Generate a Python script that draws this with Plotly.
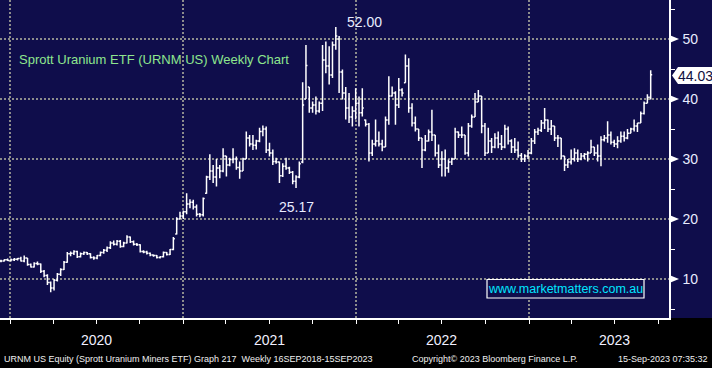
import pandas as pd
import plotly.graph_objects as go

# ---------------- data (weekly bars, URNM) ----------------
start_week = "2019-12-13"
n_weeks = 197

opens = [
13.0,13.0,13.2,13.1,13.2,13.3,13.4,13.0,13.5,12.4,12.0,12.6,12.5,11.3,10.6,9.4,8.5,9.8,10.8,11.6,
12.8,14.2,14.3,14.6,13.7,14.2,14.4,14.2,13.6,13.5,13.9,14.4,14.8,15.2,16.0,15.8,16.3,15.4,16.0,17.0,
16.2,15.8,15.7,14.6,14.5,14.3,14.0,13.9,13.6,13.7,14.4,14.1,14.9,17.5,20.0,20.5,21.2,22.5,22.8,22.0,
20.8,20.7,24.3,27.0,28.0,27.0,28.5,28.0,30.5,29.0,29.9,30.0,28.6,28.0,30.0,33.5,32.5,32.3,33.0,34.6,
35.0,31.5,31.0,29.6,29.5,27.2,28.8,28.5,27.8,26.3,27.0,29.5,40.0,42.0,38.5,39.0,38.0,39.3,46.5,45.5,
44.0,49.0,50.0,44.5,41.0,38.5,37.0,38.0,39.3,37.7,36.5,35.8,31.0,32.5,33.0,32.5,32.0,36.5,40.5,41.0,
39.0,41.5,42.7,45.5,38.5,36.0,35.0,33.5,31.5,33.0,34.5,34.0,31.0,29.0,30.0,28.5,29.5,30.0,34.5,34.0,
34.0,31.0,35.5,37.0,39.5,40.5,35.5,31.0,33.0,32.0,33.5,32.5,32.0,35.0,33.0,32.0,31.5,30.6,30.0,30.5,
31.0,33.0,34.5,34.8,36.0,36.5,35.0,35.5,33.5,33.5,30.5,29.0,29.5,30.0,31.0,30.0,30.5,30.8,31.0,32.0,
31.0,30.5,33.2,33.5,34.0,32.8,32.5,33.0,33.8,33.5,34.3,35.0,35.5,36.0,37.6,39.3,40.3]
highs = [
13.2,13.3,13.4,13.4,13.5,13.5,13.7,13.9,13.5,12.6,12.8,12.9,12.6,11.5,10.8,9.6,10.0,11.0,11.8,13.0,
14.5,14.6,14.8,14.7,14.4,14.6,14.5,14.3,13.8,14.0,14.6,15.0,15.4,16.3,16.4,16.5,16.5,16.2,17.3,17.1,
16.4,16.0,15.8,14.8,14.7,14.4,14.1,14.0,13.8,14.6,14.5,15.0,17.0,20.3,21.2,21.4,24.3,23.3,23.2,22.4,
21.0,23.6,27.2,30.8,29.0,30.0,29.0,31.8,30.5,30.2,31.8,30.4,29.6,30.2,34.6,34.0,34.0,33.2,35.2,35.6,
35.4,32.7,31.6,30.2,29.6,29.3,30.2,28.7,28.0,27.3,29.6,42.8,49.0,42.0,39.6,40.4,39.6,49.0,49.6,48.8,
49.6,52.0,50.5,44.9,42.0,41.0,38.8,41.8,40.4,41.8,36.6,36.0,33.2,36.6,34.6,33.2,37.1,43.8,42.1,41.3,
43.5,41.8,47.4,46.8,39.3,37.1,35.0,33.5,34.0,34.9,38.2,34.0,32.4,31.3,31.6,29.9,30.2,35.2,34.6,35.4,
34.0,36.0,37.4,41.0,41.5,40.5,36.0,35.2,33.5,34.3,34.6,34.0,35.7,35.4,33.3,33.5,32.9,31.0,30.8,31.5,
33.5,35.0,35.2,36.5,38.5,36.6,36.5,35.5,34.0,33.5,30.5,30.0,31.6,31.8,31.6,31.0,31.0,31.3,33.2,32.0,
32.4,33.8,34.0,36.3,34.6,33.2,33.8,34.6,34.6,35.0,35.2,36.6,36.0,37.9,39.6,40.8,44.8]
lows = [
12.8,12.9,13.0,12.9,13.0,13.1,12.9,12.8,12.2,11.9,11.9,12.3,11.0,10.3,9.0,7.8,8.1,9.6,10.5,11.5,
12.7,13.8,14.0,13.5,13.6,14.0,14.0,13.4,13.2,13.3,13.8,14.2,14.5,15.0,15.6,15.6,15.2,15.3,15.9,16.0,
15.6,15.5,14.4,14.3,14.1,13.8,13.7,13.4,13.4,13.6,13.9,14.0,14.8,17.4,20.0,20.0,20.8,21.8,21.6,20.4,
20.3,20.4,24.2,26.5,26.0,25.4,26.8,27.8,27.1,28.8,29.3,28.2,26.7,28.0,30.0,32.1,31.5,31.6,32.8,33.8,
31.0,30.4,29.0,29.2,26.0,27.0,28.2,27.5,25.8,25.17,26.8,29.3,40.0,37.7,37.7,37.4,37.7,38.0,44.3,42.4,
43.5,48.2,41.0,39.9,36.6,36.0,35.4,36.6,35.4,37.1,35.4,29.6,30.5,32.1,32.1,31.3,32.0,35.7,40.4,35.7,
38.5,40.4,42.7,37.7,35.4,34.6,33.0,28.5,31.3,32.9,33.0,30.4,28.5,27.1,27.1,27.7,29.0,30.0,33.5,33.5,
30.7,30.4,35.2,37.0,39.5,34.3,30.5,31.0,31.0,31.8,31.8,31.5,31.8,32.4,31.0,31.0,30.2,29.5,29.5,30.0,
30.8,32.5,34.0,34.5,35.0,34.5,34.0,33.0,32.0,30.0,28.0,28.5,29.1,29.6,29.5,29.8,30.0,29.6,31.0,30.5,
29.6,28.8,32.9,32.7,32.4,32.0,31.8,32.7,32.9,33.3,34.3,34.6,34.5,36.0,37.4,39.3,39.9]
closes = [
13.0,13.2,13.1,13.2,13.3,13.4,13.0,13.5,12.4,12.0,12.6,12.5,11.3,10.6,9.4,8.5,9.8,10.8,11.6,12.8,
14.2,14.3,14.6,13.7,14.2,14.4,14.2,13.6,13.5,13.9,14.4,14.8,15.2,16.0,15.8,16.3,15.4,16.0,17.0,16.2,
15.8,15.7,14.6,14.5,14.3,14.0,13.9,13.6,13.7,14.4,14.1,14.9,16.7,20.0,20.5,21.2,22.5,22.8,22.0,20.8,
20.7,23.4,27.0,28.0,27.0,28.5,28.0,30.5,29.0,29.9,30.0,28.6,28.0,30.0,33.5,32.5,32.3,33.0,34.6,35.0,
31.5,31.0,29.6,29.5,27.2,28.8,28.5,27.8,26.3,27.0,29.2,39.0,45.6,38.5,39.0,38.0,39.3,46.5,45.5,44.0,
49.0,50.5,44.5,41.0,38.5,37.0,38.0,39.3,37.7,38.5,35.8,31.0,32.5,33.0,32.5,32.0,36.5,40.5,41.0,39.0,
41.5,41.0,45.5,38.5,36.0,35.0,33.5,31.5,33.0,34.5,34.0,31.0,29.0,30.0,28.5,29.5,30.0,34.5,34.0,34.0,
31.0,35.5,37.0,39.5,40.5,35.5,31.0,33.0,32.0,33.5,32.5,32.0,35.0,33.0,32.0,31.5,30.6,30.0,30.5,31.0,
33.0,34.5,34.8,36.0,36.5,35.0,35.5,33.5,33.5,30.5,29.0,29.5,30.0,31.0,30.0,30.5,30.8,31.0,32.0,31.0,
30.5,33.2,33.5,34.0,32.8,32.5,33.0,33.8,33.5,34.3,35.0,35.5,36.0,37.6,39.3,40.3,44.03]

year_labels = ["2020", "2021", "2022", "2023"]
y_ticks = [10, 20, 30, 40, 50]
y_minor = [5, 15, 25, 35, 45, 55]
last_price = 44.03
high_label = "52.00"
low_label = "25.17"

dates = pd.date_range(start_week, periods=n_weeks, freq="7D")

# ---------------- geometry ----------------
W, H = 712, 368
PL, PR, PT, PB = 0, 669, 0, 318          # plot area in px
px_per_day = 519 / 1096.0
x0 = pd.Timestamp("2020-01-01") - pd.Timedelta(days=10 / px_per_day)
x1 = x0 + pd.Timedelta(days=(PR - PL) / px_per_day)
YMIN, YMAX = 3.5, 56.5

BG = "#0f0d4b"
GRID = "#8c8c8c"


def xp(x):
    return (x - PL) / (PR - PL)


def yp(y):
    return (PB - y) / (PB - PT)


def yv(v):
    return (v - YMIN) / (YMAX - YMIN)


fig = go.Figure()
fig.add_trace(go.Ohlc(
    x=dates, open=opens, high=highs, low=lows, close=closes,
    increasing=dict(line=dict(color="white", width=1.5)),
    decreasing=dict(line=dict(color="white", width=1.5)),
    tickwidth=0.45, hoverinfo="skip", showlegend=False,
))

shapes = []
# black footer strip
shapes.append(dict(type="rect", xref="paper", yref="paper",
                   x0=xp(-5), x1=xp(W + 5), y0=yp(H + 5), y1=yp(PB),
                   fillcolor="black", line_width=0, layer="below"))
# right-pointing triangles at major y ticks
for v in y_ticks:
    yc = yv(v)
    dy = 3.5 / (PB - PT)
    shapes.append(dict(type="path", xref="paper", yref="paper",
                       path=f"M {xp(670.5)},{yc - dy} L {xp(670.5)},{yc + dy} L {xp(679)},{yc} Z",
                       fillcolor="white", line=dict(color="white", width=0)))
# last price tag
ty = 75.5
shapes.append(dict(type="path", xref="paper", yref="paper",
                   path=(f"M {xp(672)},{yp(ty)} L {xp(678)},{yp(ty - 8.5)} L {xp(715)},{yp(ty - 8.5)} "
                         f"L {xp(715)},{yp(ty + 8.5)} L {xp(678)},{yp(ty + 8.5)} Z"),
                   fillcolor="white", line=dict(color="white", width=0)))
# watermark box
shapes.append(dict(type="rect", xref="paper", yref="paper",
                   x0=xp(487), x1=xp(644), y0=yp(298), y1=yp(279.5),
                   fillcolor=BG, line=dict(color="white", width=1.2)))

ann = []
FONT = "Liberation Sans, Arial, sans-serif"
ann.append(dict(xref="paper", yref="paper", x=xp(17), y=yp(60), xanchor="left", yanchor="middle",
                text="Sprott Uranium ETF (URNM US) Weekly Chart", showarrow=False,
                font=dict(family=FONT, size=13, color="#8ee68e")))
ann.append(dict(xref="paper", yref="paper", x=xp(365), y=yp(22), xanchor="center", yanchor="middle",
                text=high_label, showarrow=False, font=dict(family=FONT, size=14, color="#e8ecff")))
ann.append(dict(xref="paper", yref="paper", x=xp(296), y=yp(207), xanchor="center", yanchor="middle",
                text=low_label, showarrow=False, font=dict(family=FONT, size=14, color="#e8ecff")))
ann.append(dict(xref="paper", yref="paper", x=xp(695), y=yp(ty), xanchor="center", yanchor="middle",
                text=f"{last_price:.2f}", showarrow=False, font=dict(family=FONT, size=14, color="#101040")))
ann.append(dict(xref="paper", yref="paper", x=xp(565.5), y=yp(289), xanchor="center", yanchor="middle",
                text="www.marketmatters.com.au", showarrow=False,
                font=dict(family=FONT, size=12.5, color="#00e6ff")))
for i, lab in enumerate(year_labels):
    ann.append(dict(xref="x", yref="paper", x=f"{lab}-07-01", y=yp(340), xanchor="center", yanchor="middle",
                    text=lab, showarrow=False, font=dict(family=FONT, size=14, color="#f0f0ff")))
FOOT = dict(family="Liberation Sans, Arial, sans-serif", size=9, color="#f0f0f0")
ann.append(dict(xref="paper", yref="paper", x=xp(2), y=yp(359), xanchor="left", yanchor="middle",
                text="URNM US Equity (Sprott Uranium Miners ETF) Graph 217  Weekly 16SEP2018-15SEP2023",
                showarrow=False, font=FOOT))
ann.append(dict(xref="paper", yref="paper", x=xp(410), y=yp(359), xanchor="left", yanchor="middle",
                text="Copyright© 2023 Bloomberg Finance L.P.", showarrow=False, font=FOOT))
ann.append(dict(xref="paper", yref="paper", x=xp(710), y=yp(359), xanchor="right", yanchor="middle",
                text="15-Sep-2023 07:35:32", showarrow=False, font=FOOT))

fig.update_layout(
    width=W, height=H,
    margin=dict(l=PL, r=W - PR, t=PT, b=H - PB, pad=0),
    paper_bgcolor=BG, plot_bgcolor=BG,
    showlegend=False,
    shapes=shapes, annotations=ann,
    xaxis=dict(
        type="date", range=[x0, x1], rangeslider=dict(visible=False),
        tickvals=[f"{y}-01-01" for y in year_labels], ticktext=["" for _ in year_labels],
        showticklabels=False,
        ticks="outside", ticklen=33, tickcolor="#9a9a9a", tickwidth=1,
        showgrid=True, gridcolor=GRID, gridwidth=2, griddash="2px,2px",
        showline=True, linecolor="white", linewidth=1.5,
        minor=dict(dtick="M3", tick0="2020-01-01", ticks="outside", ticklen=4,
                   tickcolor="white", tickwidth=1, showgrid=False),
        zeroline=False, fixedrange=True, automargin=False,
    ),
    yaxis=dict(
        side="right", range=[YMIN, YMAX],
        tickvals=y_ticks, ticktext=[str(v) for v in y_ticks],
        ticks="outside", ticklen=9, tickcolor="rgba(0,0,0,0)",
        tickfont=dict(family=FONT, size=14, color="#e8ecff"),
        showgrid=True, gridcolor=GRID, gridwidth=2, griddash="2px,2px",
        showline=True, linecolor="white", linewidth=1.5,
        minor=dict(tickvals=y_minor, ticks="outside", ticklen=4, tickcolor="white",
                   tickwidth=1, showgrid=False),
        zeroline=False, fixedrange=True, automargin=False,
    ),
)

fig.write_html("out.html")
